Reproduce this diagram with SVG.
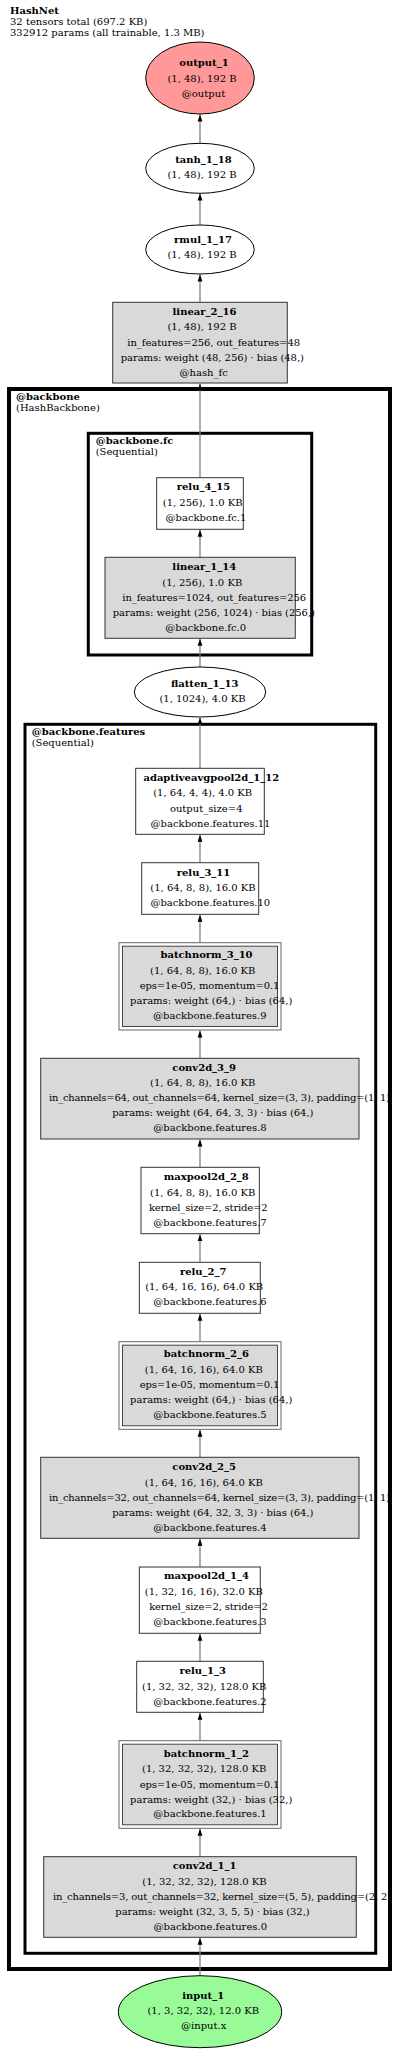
<svg xmlns="http://www.w3.org/2000/svg" width="400" height="2052" viewBox="0 0 400 2052">
<style>
text{font-family:"DejaVu Serif","Liberation Serif",serif;font-size:10px;fill:#000;text-anchor:middle}
.b{font-weight:bold}
.s{text-anchor:start}
.box{fill:#fff;stroke:#333;stroke-width:1}
.gbox{fill:#d9d9d9;stroke:#333;stroke-width:1}
.ob{fill:#fff;stroke:#666;stroke-width:1}
.ib{fill:#d9d9d9;stroke:#444;stroke-width:1}
.ell{stroke:#000;stroke-width:1}
.cl1{fill:none;stroke:#000;stroke-width:4}
.cl2{fill:none;stroke:#000;stroke-width:3}
.e{stroke:#808080;stroke-width:1.3;fill:none;marker-end:url(#ah)}
</style>
<defs>
<marker id="ah" markerWidth="8" markerHeight="6" refX="7" refY="3" orient="auto" markerUnits="userSpaceOnUse"><path d="M0,0.6 L7,3 L0,5.4 z" fill="#000"/></marker>
</defs>
<rect width="400" height="2052" fill="#fff"/>
<g id="header">
<text class="s b" x="10" y="13.5">HashNet</text>
<text class="s" x="10" y="24.5">32 tensors total (697.2 KB)</text>
<text class="s" x="10" y="35.5">332912 params (all trainable, 1.3 MB)</text>
</g>
<g id="clusters">
<g id="cluster_backbone">
<rect class="cl1" x="9" y="389" width="381" height="1580"/>
<text class="s b" x="16" y="400">@backbone</text>
<text class="s" x="16" y="411">(HashBackbone)</text>
</g>
<g id="cluster_backbone_fc">
<rect class="cl2" x="88.3" y="433.3" width="223.4" height="221.7"/>
<text class="s b" x="95.7" y="444">@backbone.fc</text>
<text class="s" x="95.7" y="455">(Sequential)</text>
</g>
<g id="cluster_backbone_features">
<rect class="cl2" x="25" y="724.3" width="350.7" height="1229"/>
<text class="s b" x="31.7" y="735">@backbone.features</text>
<text class="s" x="31.7" y="745.7">(Sequential)</text>
</g>
</g>
<g id="connectors">
<line class="e" x1="200" y1="143" x2="200" y2="114.5"/>
<line class="e" x1="200" y1="225" x2="200" y2="193.5"/>
<line class="e" x1="200" y1="302.3" x2="200" y2="274.5"/>
<line class="e" x1="200" y1="477.7" x2="200" y2="383.5"/>
<line class="e" x1="200" y1="557.3" x2="200" y2="529.8"/>
<line class="e" x1="200" y1="667" x2="200" y2="638.8"/>
<line class="e" x1="200" y1="768.3" x2="200" y2="717.5"/>
<line class="e" x1="200" y1="862.7" x2="200" y2="834.8"/>
<line class="e" x1="200" y1="942.7" x2="200" y2="914.8"/>
<line class="e" x1="200" y1="1058.3" x2="200" y2="1030.5"/>
<line class="e" x1="200" y1="1167.3" x2="200" y2="1139.5"/>
<line class="e" x1="200" y1="1262.3" x2="200" y2="1234.2"/>
<line class="e" x1="200" y1="1341.7" x2="200" y2="1313.8"/>
<line class="e" x1="200" y1="1457.3" x2="200" y2="1429.8"/>
<line class="e" x1="200" y1="1567" x2="200" y2="1538.8"/>
<line class="e" x1="200" y1="1661.3" x2="200" y2="1633.8"/>
<line class="e" x1="200" y1="1740.7" x2="200" y2="1712.8"/>
<line class="e" x1="200" y1="1856.7" x2="200" y2="1828.8"/>
<line class="e" x1="200" y1="1975.7" x2="200" y2="1937.8"/>
</g>
<g id="output_1">
<ellipse class="ell" cx="200" cy="78" rx="54.3" ry="36" fill="#ff9999"/>
<text class="b" x="204" y="66">output_1</text>
<text x="202" y="81.5">(1, 48), 192 B</text>
<text x="203.5" y="96.5">@output</text>
</g>
<g id="tanh_1_18">
<ellipse class="ell" cx="200" cy="168.3" rx="54.3" ry="25" fill="#fff"/>
<text class="b" x="203.5" y="163.3">tanh_1_18</text>
<text x="202" y="178.3">(1, 48), 192 B</text>
</g>
<g id="rmul_1_17">
<ellipse class="ell" cx="200" cy="249.5" rx="54.3" ry="24.5" fill="#fff"/>
<text class="b" x="203" y="242.7">rmul_1_17</text>
<text x="202" y="258.3">(1, 48), 192 B</text>
</g>
<g id="linear_2_16">
<rect class="gbox" x="112.7" y="302.3" width="174.6" height="80.7"/>
<text class="b" x="204.5" y="315">linear_2_16</text>
<text x="202" y="330.3">(1, 48), 192 B</text>
<text x="213.7" y="345.7" textLength="172.7" lengthAdjust="spacing">in_features=256, out_features=48</text>
<text x="212.3" y="360.7" textLength="183.3" lengthAdjust="spacing">params: weight (48, 256) · bias (48,)</text>
<text x="203.7" y="375.7">@hash_fc</text>
</g>
<g id="relu_4_15">
<rect class="box" x="156.7" y="477.7" width="86.6" height="51.6"/>
<text class="b" x="203.5" y="490">relu_4_15</text>
<text x="202.7" y="506">(1, 256), 1.0 KB</text>
<text x="206" y="521">@backbone.fc.1</text>
</g>
<g id="linear_1_14">
<rect class="gbox" x="105" y="557.3" width="190.3" height="81"/>
<text class="b" x="204.3" y="570">linear_1_14</text>
<text x="202.3" y="585.7">(1, 256), 1.0 KB</text>
<text x="214.2" y="600.7" textLength="183.7" lengthAdjust="spacing">in_features=1024, out_features=256</text>
<text x="213.8" y="616" textLength="202.3" lengthAdjust="spacing">params: weight (256, 1024) · bias (256,)</text>
<text x="205.7" y="631">@backbone.fc.0</text>
</g>
<g id="flatten_1_13">
<ellipse class="ell" cx="200" cy="692" rx="65.7" ry="25" fill="#fff"/>
<text class="b" x="204.7" y="686.7">flatten_1_13</text>
<text x="202.5" y="702">(1, 1024), 4.0 KB</text>
</g>
<g id="adaptiveavgpool2d_1_12">
<rect class="box" x="135.7" y="768.3" width="128.6" height="66"/>
<text class="b" x="211.3" y="780.7">adaptiveavgpool2d_1_12</text>
<text x="202.7" y="796.3">(1, 64, 4, 4), 4.0 KB</text>
<text x="206.2" y="811.7">output_size=4</text>
<text x="210.5" y="826.7">@backbone.features.11</text>
</g>
<g id="relu_3_11">
<rect class="box" x="141.7" y="862.7" width="117" height="51.6"/>
<text class="b" x="203.5" y="875.7">relu_3_11</text>
<text x="203" y="891.3">(1, 64, 8, 8), 16.0 KB</text>
<text x="210.3" y="906">@backbone.features.10</text>
</g>
<g id="batchnorm_3_10">
<rect class="ob" x="119" y="942.7" width="162" height="87.3"/>
<rect class="ib" x="122.5" y="946.2" width="155" height="80.3"/>
<text class="b" x="206.5" y="958.3">batchnorm_3_10</text>
<text x="202.7" y="974">(1, 64, 8, 8), 16.0 KB</text>
<text x="209.5" y="989" textLength="139.7" lengthAdjust="spacing">eps=1e-05, momentum=0.1</text>
<text x="211.2" y="1004" textLength="162.3" lengthAdjust="spacing">params: weight (64,) · bias (64,)</text>
<text x="209.8" y="1019">@backbone.features.9</text>
</g>
<g id="conv2d_3_9">
<rect class="gbox" x="40.7" y="1058.3" width="318.3" height="80.7"/>
<text class="b" x="204.2" y="1070.7">conv2d_3_9</text>
<text x="202.7" y="1086">(1, 64, 8, 8), 16.0 KB</text>
<text x="219.5" y="1101.3" textLength="341" lengthAdjust="spacing">in_channels=64, out_channels=64, kernel_size=(3, 3), padding=(1, 1)</text>
<text x="212.8" y="1116.3" textLength="201" lengthAdjust="spacing">params: weight (64, 64, 3, 3) · bias (64,)</text>
<text x="210" y="1131.3">@backbone.features.8</text>
</g>
<g id="maxpool2d_2_8">
<rect class="box" x="141" y="1167.3" width="118.3" height="66.4"/>
<text class="b" x="206.3" y="1180">maxpool2d_2_8</text>
<text x="202.7" y="1195.7">(1, 64, 8, 8), 16.0 KB</text>
<text x="208.3" y="1210.7" textLength="118.7" lengthAdjust="spacing">kernel_size=2, stride=2</text>
<text x="210" y="1225.7">@backbone.features.7</text>
</g>
<g id="relu_2_7">
<rect class="box" x="139.3" y="1262.3" width="121" height="51"/>
<text class="b" x="203.2" y="1275">relu_2_7</text>
<text x="204.2" y="1290.3">(1, 64, 16, 16), 64.0 KB</text>
<text x="210" y="1305.3">@backbone.features.6</text>
</g>
<g id="batchnorm_2_6">
<rect class="ob" x="119" y="1341.7" width="162" height="87.6"/>
<rect class="ib" x="122.5" y="1345.2" width="155" height="80.6"/>
<text class="b" x="206.3" y="1357.3">batchnorm_2_6</text>
<text x="203.8" y="1373">(1, 64, 16, 16), 64.0 KB</text>
<text x="209.5" y="1388.3" textLength="139.7" lengthAdjust="spacing">eps=1e-05, momentum=0.1</text>
<text x="211.2" y="1403.3" textLength="162.3" lengthAdjust="spacing">params: weight (64,) · bias (64,)</text>
<text x="210" y="1418">@backbone.features.5</text>
</g>
<g id="conv2d_2_5">
<rect class="gbox" x="40.7" y="1457.3" width="318.3" height="81"/>
<text class="b" x="204.2" y="1470">conv2d_2_5</text>
<text x="203.8" y="1485.7">(1, 64, 16, 16), 64.0 KB</text>
<text x="219.5" y="1500.7" textLength="341" lengthAdjust="spacing">in_channels=32, out_channels=64, kernel_size=(3, 3), padding=(1, 1)</text>
<text x="212.8" y="1515.7" textLength="201" lengthAdjust="spacing">params: weight (64, 32, 3, 3) · bias (64,)</text>
<text x="210" y="1530.7">@backbone.features.4</text>
</g>
<g id="maxpool2d_1_4">
<rect class="box" x="139.3" y="1567" width="121" height="66.3"/>
<text class="b" x="206.5" y="1579">maxpool2d_1_4</text>
<text x="203.8" y="1594.7">(1, 32, 16, 16), 32.0 KB</text>
<text x="208.5" y="1610" textLength="118.7" lengthAdjust="spacing">kernel_size=2, stride=2</text>
<text x="210" y="1625">@backbone.features.3</text>
</g>
<g id="relu_1_3">
<rect class="box" x="136.7" y="1661.3" width="126.6" height="51"/>
<text class="b" x="202.7" y="1674">relu_1_3</text>
<text x="204.2" y="1690">(1, 32, 32, 32), 128.0 KB</text>
<text x="210" y="1705">@backbone.features.2</text>
</g>
<g id="batchnorm_1_2">
<rect class="ob" x="119" y="1740.7" width="162" height="87.6"/>
<rect class="ib" x="122.5" y="1744.2" width="155" height="80.6"/>
<text class="b" x="206.3" y="1756.7">batchnorm_1_2</text>
<text x="204.2" y="1772.3">(1, 32, 32, 32), 128.0 KB</text>
<text x="209.5" y="1787.7" textLength="139.7" lengthAdjust="spacing">eps=1e-05, momentum=0.1</text>
<text x="211.2" y="1802.7" textLength="162.3" lengthAdjust="spacing">params: weight (32,) · bias (32,)</text>
<text x="210" y="1817.3">@backbone.features.1</text>
</g>
<g id="conv2d_1_1">
<rect class="gbox" x="43.7" y="1856.7" width="312.6" height="80.6"/>
<text class="b" x="204.5" y="1869.3">conv2d_1_1</text>
<text x="204.5" y="1885">(1, 32, 32, 32), 128.0 KB</text>
<text x="222" y="1900" textLength="338" lengthAdjust="spacing">in_channels=3, out_channels=32, kernel_size=(5, 5), padding=(2, 2)</text>
<text x="212.5" y="1915" textLength="194.3" lengthAdjust="spacing">params: weight (32, 3, 5, 5) · bias (32,)</text>
<text x="210.3" y="1930">@backbone.features.0</text>
</g>
<g id="input_1">
<ellipse class="ell" cx="200" cy="2011.7" rx="81.7" ry="36" fill="#98fb98"/>
<text class="b" x="203.2" y="1999">input_1</text>
<text x="203.3" y="2014">(1, 3, 32, 32), 12.0 KB</text>
<text x="203.7" y="2029.3">@input.x</text>
</g>
</svg>
